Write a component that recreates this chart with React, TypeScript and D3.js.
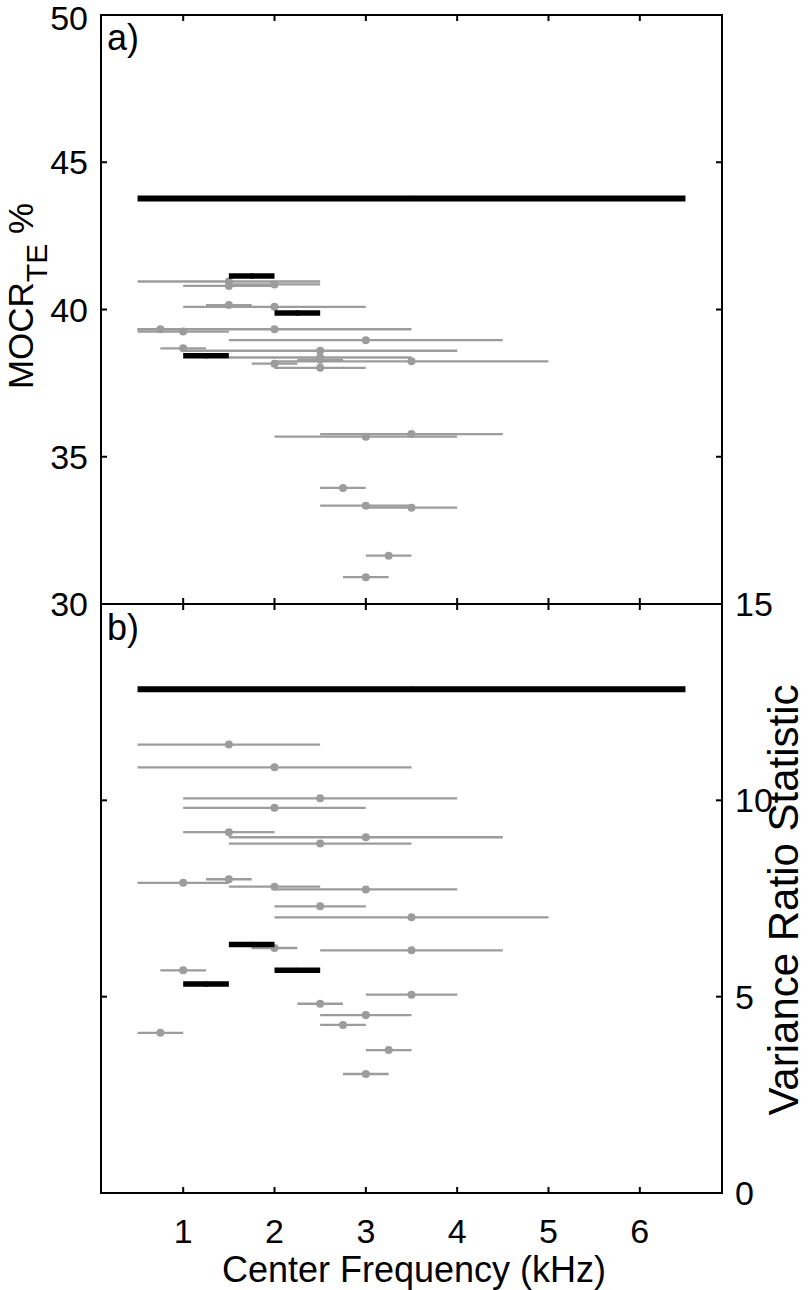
import React from "react";
import * as d3 from "d3";

// ---- Data ----
const xTicks = [1, 2, 3, 4, 5, 6];
const topYTicks = [30, 35, 40, 45, 50];
const bottomYTicks = [0, 5, 10, 15];

// panel a) gray filters: center (kHz), bandwidth (kHz), MOCR value
const topGrayCenters = [1.5, 1.5, 2, 2, 1.5, 2, 0.75, 1, 3, 1, 2.5, 2.5, 2.5, 3.5, 2, 2.5, 3, 3.5, 2.75, 3, 3.5, 3.25, 3];
const topGrayWidths = [2, 1, 1, 2, 0.5, 3, 0.5, 1, 3, 0.5, 3, 2, 0.5, 3, 0.5, 1, 2, 2, 0.5, 1, 1, 0.5, 0.5];
const topGrayValues = [40.95, 40.8, 40.85, 40.09, 40.15, 39.33, 39.33, 39.25, 38.96, 38.68, 38.6, 38.37, 38.29, 38.24, 38.16, 38.02, 35.68, 35.77, 33.94, 33.34, 33.27, 31.64, 30.91];

// panel a) black filters
const topBlackCenters = [3.5, 1.75, 2.25, 1.25];
const topBlackWidths = [6, 0.5, 0.5, 0.5];
const topBlackValues = [43.77, 41.14, 39.88, 38.43];

// panel b) gray filters: center, bandwidth, variance ratio
const botGrayCenters = [1.5, 2, 2.5, 2, 1.5, 3, 2.5, 1, 1.5, 2, 3, 2.5, 3.5, 2, 3.5, 1, 3.5, 2.5, 3, 2.75, 0.75, 3.25, 3];
const botGrayWidths = [2, 3, 3, 2, 1, 3, 2, 1, 0.5, 1, 2, 1, 3, 0.5, 2, 0.5, 1, 0.5, 1, 0.5, 0.5, 0.5, 0.5];
const botGrayValues = [11.42, 10.84, 10.05, 9.81, 9.19, 9.06, 8.9, 7.9, 7.99, 7.8, 7.73, 7.3, 7.02, 6.24, 6.18, 5.67, 5.05, 4.82, 4.53, 4.28, 4.08, 3.64, 3.03];

// panel b) black filters
const botBlackCenters = [3.5, 1.75, 2.25, 1.25];
const botBlackWidths = [6, 0.5, 0.5, 0.5];
const botBlackValues = [12.83, 6.33, 5.67, 5.32];

const W = 810;
const H = 1290;
const left = 101;
const right = 722;
const topY0 = 15;
const midY = 604;
const botY1 = 1193;
const GRAY = "#9c9c9c";
const FONT = "'Liberation Sans', Arial, Helvetica, sans-serif";

const x = d3.scaleLinear().domain([0.1, 6.9]).range([left, right]);
const yTop = d3.scaleLinear().domain([30, 50]).range([midY, topY0]);
const yBot = d3.scaleLinear().domain([0, 15]).range([botY1, midY]);

type Row = { c: number; w: number; v: number };
const rows = (cs: number[], ws: number[], vs: number[]): Row[] =>
  cs.map((c, i) => ({ c, w: ws[i], v: vs[i] }));

function Filters({ data, y, black }: { data: Row[]; y: d3.ScaleLinear<number, number>; black: boolean }) {
  return (
    <g>
      {data.map((d, i) => (
        <g key={i}>
          <line
            x1={x(d.c - d.w / 2)}
            x2={x(d.c + d.w / 2)}
            y1={y(d.v)}
            y2={y(d.v)}
            stroke={black ? "#000" : GRAY}
            strokeWidth={black ? (d.w > 3 ? 6 : 5.5) : 2.3}
          />
          <circle cx={x(d.c)} cy={y(d.v)} r={black ? 2.7 : 4} fill={black ? "#000" : GRAY} />
        </g>
      ))}
    </g>
  );
}

export default function App() {
  const tl = 6;
  const topGray = rows(topGrayCenters, topGrayWidths, topGrayValues);
  const topBlack = rows(topBlackCenters, topBlackWidths, topBlackValues);
  const botGray = rows(botGrayCenters, botGrayWidths, botGrayValues);
  const botBlack = rows(botBlackCenters, botBlackWidths, botBlackValues);
  const TICK_FS = 34;
  return (
    <svg
      width={W}
      height={H}
      style={{ position: "absolute", left: 0, top: 0, background: "#fff" }}
      fontFamily={FONT}
    >
      <rect x={0} y={0} width={W} height={H} fill="#fff" />
      <Filters data={topGray} y={yTop} black={false} />
      <Filters data={topBlack} y={yTop} black={true} />
      <Filters data={botGray} y={yBot} black={false} />
      <Filters data={botBlack} y={yBot} black={true} />

      {/* frames */}
      <rect x={left} y={topY0} width={right - left} height={midY - topY0} fill="none" stroke="#000" strokeWidth={2} />
      <rect x={left} y={midY} width={right - left} height={botY1 - midY} fill="none" stroke="#000" strokeWidth={2} />

      {/* x ticks */}
      {xTicks.map((t) => (
        <g key={"xt" + t} stroke="#000" strokeWidth={2}>
          <line x1={x(t)} x2={x(t)} y1={topY0} y2={topY0 + tl} />
          <line x1={x(t)} x2={x(t)} y1={midY - tl} y2={midY + tl} />
          <line x1={x(t)} x2={x(t)} y1={botY1 - tl} y2={botY1} />
        </g>
      ))}
      {xTicks.map((t) => (
        <text key={"xl" + t} x={x(t)} y={1243} fontSize={TICK_FS} textAnchor="middle" fill="#000">
          {t}
        </text>
      ))}

      {/* top y ticks */}
      {topYTicks.map((t) => (
        <g key={"ty" + t} stroke="#000" strokeWidth={2}>
          <line x1={left} x2={left + tl} y1={yTop(t)} y2={yTop(t)} />
          <line x1={right - tl} x2={right} y1={yTop(t)} y2={yTop(t)} />
        </g>
      ))}
      {topYTicks.map((t) => (
        <text
          key={"tyl" + t}
          x={88}
          y={Math.max(yTop(t) + 12, 30)}
          fontSize={TICK_FS}
          textAnchor="end"
          fill="#000"
        >
          {t}
        </text>
      ))}

      {/* bottom y ticks */}
      {bottomYTicks.map((t) => (
        <g key={"by" + t} stroke="#000" strokeWidth={2}>
          <line x1={left} x2={left + tl} y1={yBot(t)} y2={yBot(t)} />
          <line x1={right - tl} x2={right} y1={yBot(t)} y2={yBot(t)} />
        </g>
      ))}
      {bottomYTicks.map((t) => (
        <text key={"byl" + t} x={735} y={yBot(t) + 12} fontSize={TICK_FS} textAnchor="start" fill="#000">
          {t}
        </text>
      ))}

      {/* panel labels */}
      <text x={107} y={50} fontSize={36} fill="#000">a)</text>
      <text x={107} y={640} fontSize={36} fill="#000">b)</text>

      {/* axis titles */}
      <text x={414} y={1282} fontSize={36} textAnchor="middle" fill="#000">
        Center Frequency (kHz)
      </text>
      <text transform="translate(33,296) rotate(-90)" fontSize={35} textAnchor="middle" fill="#000">
        MOCR
        <tspan fontSize={30} dy={14}>TE</tspan>
        <tspan dy={-14}> %</tspan>
      </text>
      <text transform="translate(798,900) rotate(-90)" fontSize={42} textAnchor="middle" fill="#000">
        Variance Ratio Statistic
      </text>
    </svg>
  );
}
